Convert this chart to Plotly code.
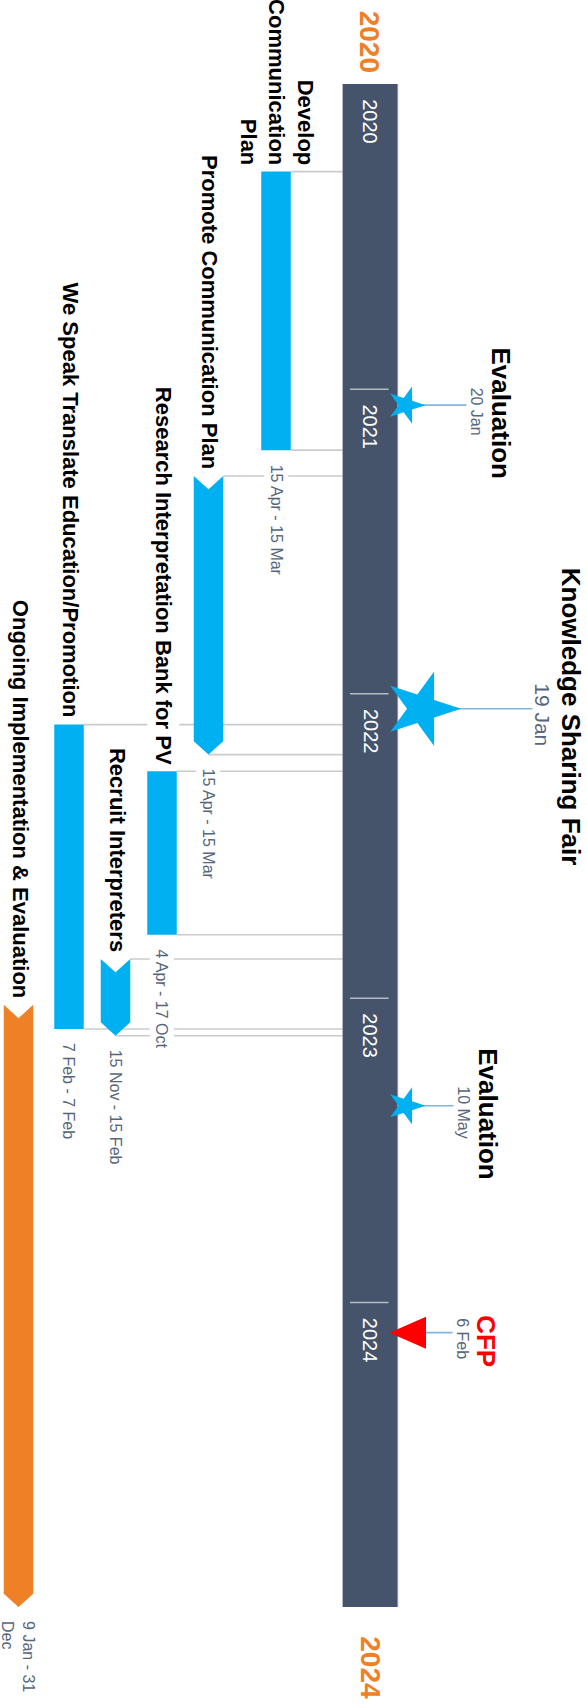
import pandas as pd
import plotly.graph_objects as go

# ---------------- data ----------------
task_names = ["Develop<br>Communication<br>Plan", "Promote Communication Plan",
              "Research Interpretation Bank for PV", "Recruit Interpreters",
              "We Speak Translate Education/Promotion", "Ongoing Implementation & Evaluation"]
task_starts = ["2020-04-15", "2021-04-15", "2022-04-04", "2022-11-15", "2022-02-07", "2023-01-09"]
task_ends = ["2021-03-15", "2022-03-15", "2022-10-17", "2023-02-15", "2023-02-07", "2024-12-31"]
task_date_labels = ["15 Apr - 15 Mar", "15 Apr - 15 Mar", "4 Apr - 17 Oct",
                    "15 Nov - 15 Feb", "7 Feb - 7 Feb", "9 Jan - 31<br>Dec"]
task_kinds = ["bar", "chevron", "bar", "chevron", "bar", "chevron"]
task_groups = ["blue", "blue", "blue", "blue", "blue", "orange"]

milestone_names = ["Evaluation", "Knowledge Sharing Fair", "Evaluation", "CFP"]
milestone_dates = ["2021-01-20", "2022-01-19", "2023-05-10", "2024-02-06"]
milestone_date_labels = ["20 Jan", "19 Jan", "10 May", "6 Feb"]
milestone_kinds = ["star", "bigstar", "star", "triangle"]

timeline_start = "2020-01-01"
timeline_end = "2024-12-31"
year_ticks = ["2020-01-01", "2021-01-01", "2022-01-01", "2023-01-01", "2024-01-01"]
year_labels = ["2020", "2021", "2022", "2023", "2024"]

# ---------------- style / layout ----------------
W, H = 587, 1704
PX_PER_DAY = 0.8341
ORIGIN_PX = 84
FONT = "Liberation Sans, Arial, Helvetica, sans-serif"
BLUE = "#00B0F0"
ORANGE = "#F08026"
SLATE = "#45546A"
DATECOL = "#56667B"
LINECOL = "#CBCBCB"
MS_LINECOL = "#82B6E0"
RED = "#FF0000"
GROUP_COLORS = {"blue": BLUE, "orange": ORANGE}

lane_x = [276, 208.5, 162, 115.5, 69, 18.5]
lane_w = 29.5
bar_x0, bar_x1 = 342.6, 398.0
notch_days = 16
tick_x0, tick_x1 = 350, 388.6

ms_marker_x = {"star": 406, "bigstar": 422}
ms_marker_size = {"star": 28, "bigstar": 56}
ms_date_x = [476.5, 542.5, 463.5, 462.5]
ms_title_x = [500.7, 571, 488.5, 486.5]
ms_date_size = [16, 21, 16, 16]
tri_tip_x, tri_base_x, tri_half_px = 389.4, 426, 16

origin = pd.Timestamp(timeline_start)
y_top = origin - pd.Timedelta(days=ORIGIN_PX / PX_PER_DAY)
y_bot = origin + pd.Timedelta(days=(H - ORIGIN_PX) / PX_PER_DAY)

fig = go.Figure()
shapes = []
annotations = []

# connector lines for tasks (drawn first, beneath everything)
for i, (s, e, kind) in enumerate(zip(task_starts, task_ends, task_kinds)):
    if task_groups[i] == "orange":
        continue
    cx = lane_x[i]
    right = cx + lane_w / 2
    shapes.append(dict(type="line", xref="x", yref="y", x0=right, x1=bar_x0, y0=s, y1=s,
                       line=dict(color=LINECOL, width=1.6), layer="below"))
    xe = cx if kind == "chevron" else right
    shapes.append(dict(type="line", xref="x", yref="y", x0=xe, x1=bar_x0, y0=e, y1=e,
                       line=dict(color=LINECOL, width=1.6), layer="below"))

# milestone connector lines
for i, (d, kind) in enumerate(zip(milestone_dates, milestone_kinds)):
    x0 = tri_tip_x + 10 if kind == "triangle" else ms_marker_x[kind]
    shapes.append(dict(type="line", xref="x", yref="y", x0=x0, x1=ms_date_x[i] - 10, y0=d, y1=d,
                       line=dict(color=MS_LINECOL, width=1.6), layer="below"))

# timeline bar
shapes.append(dict(type="rect", xref="x", yref="y", x0=bar_x0, x1=bar_x1,
                   y0=timeline_start, y1=timeline_end, fillcolor=SLATE,
                   line=dict(width=0), layer="below"))
shapes.append(dict(type="line", xref="x", yref="y", x0=bar_x1, x1=bar_x1,
                   y0=timeline_start, y1=timeline_end, line=dict(color="#D3D7DD", width=1), layer="below"))

# year ticks and labels on the bar
for t, lab in zip(year_ticks, year_labels):
    if t != timeline_start:
        shapes.append(dict(type="line", xref="x", yref="y", x0=tick_x0, x1=tick_x1, y0=t, y1=t,
                           line=dict(color="#B4BBC5", width=1.5), layer="below"))
    annotations.append(dict(x=(bar_x0 + bar_x1) / 2, y=t, xref="x", yref="y", text=lab,
                            showarrow=False, textangle=90, xanchor="center", yanchor="top",
                            yshift=-13, font=dict(family=FONT, size=20, color="white")))

# big orange year labels
annotations.append(dict(x=(bar_x0 + bar_x1) / 2, y=timeline_start, xref="x", yref="y",
                        text="<b>%s</b>" % timeline_start[:4], showarrow=False, textangle=90,
                        xanchor="center", yanchor="bottom", yshift=9,
                        font=dict(family=FONT, size=28, color=ORANGE)))
annotations.append(dict(x=(bar_x0 + bar_x1) / 2, y=timeline_end, xref="x", yref="y",
                        text="<b>%s</b>" % timeline_end[:4], showarrow=False, textangle=90,
                        xanchor="center", yanchor="top", yshift=-27,
                        font=dict(family=FONT, size=28, color=ORANGE)))

# task shapes as filled traces
nd = pd.Timedelta(days=notch_days)
for i, (s, e, kind) in enumerate(zip(task_starts, task_ends, task_kinds)):
    cx = lane_x[i]
    x0, x1 = cx - lane_w / 2, cx + lane_w / 2
    ts, te = pd.Timestamp(s), pd.Timestamp(e)
    if kind == "bar":
        xs = [x0, x1, x1, x0, x0]
        ys = [ts, ts, te, te, ts]
    else:
        xs = [x0, cx, x1, x1, cx, x0, x0]
        ys = [ts, ts + nd, ts, te - nd, te, te - nd, ts]
    col = GROUP_COLORS[task_groups[i]]
    fig.add_trace(go.Scatter(x=xs, y=ys, mode="lines", fill="toself", fillcolor=col,
                             line=dict(width=0, color=col), hoverinfo="skip", showlegend=False))
    # task name
    annotations.append(dict(x=cx + 1.5, y=s, xref="x", yref="y", text="<b>%s</b>" % task_names[i],
                            showarrow=False, textangle=90, xanchor="center", yanchor="bottom",
                            align="right", bgcolor="white", borderpad=3, yshift=3,
                            font=dict(family=FONT, size=22, color="black")))
    # date range
    annotations.append(dict(x=cx, y=e, xref="x", yref="y", text=task_date_labels[i],
                            showarrow=False, textangle=90, xanchor="center", yanchor="top",
                            align="left", bgcolor="white", borderpad=3, yshift=-10,
                            font=dict(family=FONT, size=16, color=DATECOL)))

# milestones
for i, (name, d, dl, kind) in enumerate(zip(milestone_names, milestone_dates,
                                             milestone_date_labels, milestone_kinds)):
    if kind == "triangle":
        md = pd.Timestamp(d)
        hd = pd.Timedelta(days=tri_half_px / PX_PER_DAY)
        fig.add_trace(go.Scatter(x=[tri_tip_x, tri_base_x, tri_base_x, tri_tip_x],
                                 y=[md, md - hd, md + hd, md], mode="lines", fill="toself",
                                 fillcolor=RED, line=dict(width=0, color=RED),
                                 hoverinfo="skip", showlegend=False))
        tcol = RED
    else:
        fig.add_trace(go.Scatter(x=[ms_marker_x[kind]], y=[d], mode="markers",
                                 marker=dict(symbol="star", angle=90, size=ms_marker_size[kind],
                                             color=BLUE, line=dict(width=0)),
                                 hoverinfo="skip", showlegend=False))
        tcol = "black"
    annotations.append(dict(x=ms_date_x[i], y=d, xref="x", yref="y", text=dl, showarrow=False,
                            textangle=90, xanchor="center", yanchor="middle", yshift=-6,
                            font=dict(family=FONT, size=ms_date_size[i], color=DATECOL)))
    annotations.append(dict(x=ms_title_x[i], y=d, xref="x", yref="y", text="<b>%s</b>" % name,
                            showarrow=False, textangle=90, xanchor="center", yanchor="middle",
                            yshift=-8, font=dict(family=FONT, size=26, color=tcol)))

fig.update_layout(
    width=W, height=H, margin=dict(l=0, r=0, t=0, b=0),
    paper_bgcolor="white", plot_bgcolor="white",
    shapes=shapes, annotations=annotations, showlegend=False,
    xaxis=dict(range=[0, W], visible=False, showgrid=False, zeroline=False, fixedrange=True),
    yaxis=dict(type="date", range=[y_bot.strftime("%Y-%m-%d %H:%M:%S"),
                                   y_top.strftime("%Y-%m-%d %H:%M:%S")],
               visible=False, showgrid=False, zeroline=False, fixedrange=True),
)

fig.write_html("out.html")
